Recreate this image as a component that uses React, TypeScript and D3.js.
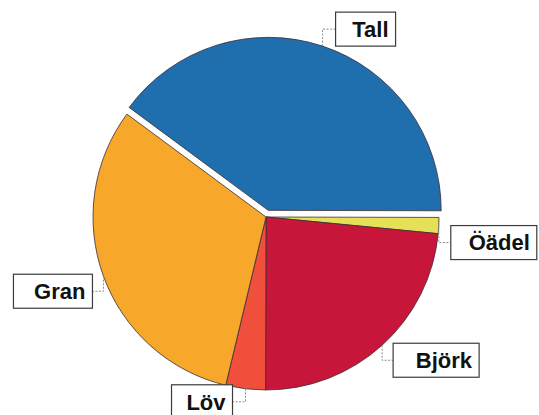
import { useEffect, useRef } from 'react'
import * as d3 from 'd3'

const categories = ['Tall', 'Öädel', 'Björk', 'Löv', 'Gran']
const shares = [39.9, 1.5, 23.5, 3.7, 31.4]
const colors = ['#1f6fae', '#e6df58', '#c8163a', '#ef4f3b', '#f7a82a']

// label box placement relative to the leader anchor on the rim
const labelLayout = [
  { side: 'right', dy: -17, gap: 13, w: 60 },
  { side: 'right', dy: 17, gap: 12, w: 86 },
  { side: 'right', dy: 15, gap: 11, w: 86 },
  { side: 'left', dy: 13, gap: 13, w: 61 },
  { side: 'left', dy: 15, gap: 11, w: 79 },
]

export default function App() {
  const svgRef = useRef<SVGSVGElement>(null)

  useEffect(() => {
    if (!svgRef.current) return
    const svg = d3.select(svgRef.current)
    svg.selectAll('*').remove()

    const cx = 266
    const cy = 217
    const r = 173
    const explode = 7

    const data = categories.map((c, i) => ({ name: c, value: shares[i], color: colors[i] }))

    const pie = d3
      .pie<{ name: string; value: number; color: string }>()
      .sort(null)
      .value((d) => d.value)
      .startAngle((-53.5 * Math.PI) / 180)
      .endAngle(((360 - 53.5) * Math.PI) / 180)

    const arcs = pie(data)
    const arc = d3.arc<d3.PieArcDatum<any>>().innerRadius(0).outerRadius(r)

    const g = svg.append('g').attr('transform', `translate(${cx},${cy})`)

    g.selectAll('path.slice')
      .data(arcs)
      .enter()
      .append('path')
      .attr('class', 'slice')
      .attr('d', arc as any)
      .attr('fill', (d) => d.data.color)
      .attr('stroke', '#3a2c38')
      .attr('stroke-width', 0.8)
      .attr('stroke-linejoin', 'round')
      .attr('transform', (d, i) => {
        if (i !== 0) return null
        const mid = (d.startAngle + d.endAngle) / 2
        return `translate(${Math.sin(mid) * explode},${-Math.cos(mid) * explode})`
      })

    const boxH = 34
    arcs.forEach((d, i) => {
      const mid = (d.startAngle + d.endAngle) / 2
      const off = i === 0 ? explode : 0
      const ax = cx + Math.sin(mid) * (r + off)
      const ay = cy - Math.cos(mid) * (r + off)
      const L = labelLayout[i]
      const by = ay + L.dy
      const bx = L.side === 'right' ? ax + L.gap : ax - L.gap - L.w
      const edgeX = L.side === 'right' ? bx : bx + L.w

      svg
        .append('path')
        .attr('d', `M${ax},${ay}V${by}H${edgeX}`)
        .attr('fill', 'none')
        .attr('stroke', '#8a8a8a')
        .attr('stroke-width', 1)
        .attr('stroke-dasharray', '2,1.5')

      svg
        .append('rect')
        .attr('x', bx)
        .attr('y', by - boxH / 2)
        .attr('width', L.w)
        .attr('height', boxH)
        .attr('fill', '#fff')
        .attr('stroke', '#3c3c3c')
        .attr('stroke-width', 1.2)

      svg
        .append('text')
        .attr('x', bx + L.w - 7)
        .attr('y', by)
        .attr('dy', '0.36em')
        .attr('text-anchor', 'end')
        .attr('font-family', 'Liberation Sans, Arial, sans-serif')
        .attr('font-weight', 'bold')
        .attr('font-size', 22)
        .attr('fill', '#111')
        .text(d.data.name)
    })
  }, [])

  return (
    <svg
      ref={svgRef}
      width={539}
      height={415}
      style={{ position: 'absolute', left: 0, top: 0, background: '#fff' }}
    />
  )
}
